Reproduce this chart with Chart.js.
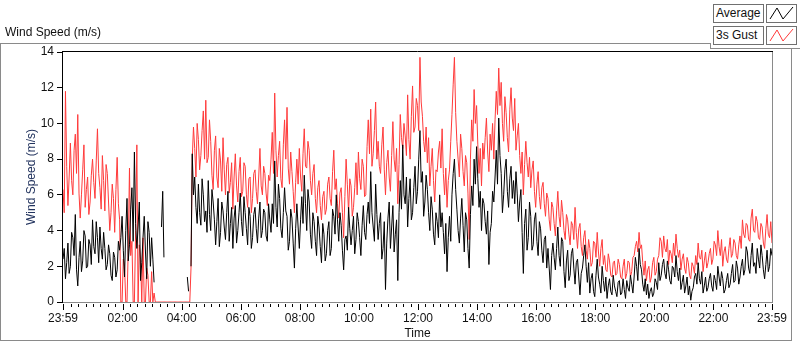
<!DOCTYPE html>
<html>
<head>
<meta charset="utf-8">
<script src="https://cdn.jsdelivr.net/npm/chart.js@4.4.1/dist/chart.umd.min.js"></script>
<style>
html, body { margin: 0; padding: 0; background: #fff; }
#wrap { position: relative; width: 800px; height: 342px; font-family: "Liberation Sans", Arial, sans-serif; font-size: 12px; color: #111; }
#chart { position: absolute; left: 0; top: 0; }
.txt { position: absolute; white-space: nowrap; line-height: 14px; }
.lg { position: absolute; box-sizing: border-box; height: 19px; border: 1px solid #707070; background: #fff; line-height: 17px; padding-left: 2px; }
.ic { position: absolute; box-sizing: border-box; width: 31px; height: 19px; border: 1px solid #707070; background: #fff; }
.ic svg { position: absolute; left: 0; top: 0; }
</style>
</head>
<body>
<div id="wrap">
	<canvas id="chart" width="800" height="342"></canvas>
	<div class="txt" style="left:5px; top:25px;">Wind Speed (m/s)</div>
	<div class="lg" style="left:713px; top:4px; width:51px;">Average</div>
	<div class="ic" style="left:766px; top:4px;"><svg width="29" height="17"><polyline points="3,14 10,3 16,14 26,2" fill="none" stroke="#000" stroke-width="1"/></svg></div>
	<div class="lg" style="left:713px; top:26px; width:51px;">3s Gust</div>
	<div class="ic" style="left:766px; top:26px;"><svg width="29" height="17"><polyline points="3,14 10,3 16,14 26,2" fill="none" stroke="#ff3a3a" stroke-width="1"/></svg></div>
</div>
<script>
// one sample every 2.5 minutes, starting 23:59 the day before
var STEP_MIN = 2.5;

var averageSpeed = [
	2.4,3.0,1.3,2.2,3.3,1.6,2.0,3.9,3.6,2.6,4.9,1.8,
	0.9,2.5,3.4,1.7,2.3,4.0,3.7,1.9,2.0,3.5,3.2,2.1,
	4.6,3.1,2.7,4.5,3.6,2.2,4.2,3.0,2.4,3.9,3.0,1.8,
	2.1,3.2,2.7,1.5,1.2,2.8,2.5,1.4,1.8,3.4,2.9,3.6,
	4.8,2.9,1.4,4.0,5.8,2.3,3.2,5.2,6.4,3.4,8.4,4.4,
	3.0,4.2,5.6,1.2,2.2,3.6,4.8,2.8,1.3,4.5,3.9,2.0,
	3.6,2.4,1.1,null,null,null,null,null,4.2,6.2,2.5,
	null,null,null,null,null,null,null,null,null,null,null,null,null,null,null,null,null,null,
	1.4,0.6,null,2.0,8.3,
	6.0,7.0,5.3,4.4,6.6,5.0,4.3,6.9,6.0,4.5,5.1,3.9,
	6.8,4.9,4.0,6.3,5.6,4.6,3.2,4.5,5.8,3.1,3.9,5.6,5.1,4.2,3.5,5.0,6.2,3.4,4.4,5.3,3.0,4.7,
	5.4,3.3,4.0,5.0,6.1,4.5,3.7,5.9,5.0,4.1,3.2,5.3,4.8,3.0,3.6,4.9,
	5.3,4.1,3.3,4.7,5.6,3.6,4.0,5.2,5.0,3.7,3.4,5.5,4.6,3.9,
	5.5,4.4,7.9,5.3,4.2,6.6,5.8,4.1,3.6,5.0,6.4,5.1,4.8,2.9,3.4,5.2,
	4.7,3.3,1.9,4.1,5.5,4.2,3.0,4.6,5.9,4.4,7.1,5.5,4.0,6.3,5.6,3.8,
	3.0,5.0,4.5,3.4,2.6,4.8,4.2,3.1,2.2,4.4,3.8,2.3,2.7,4.0,
	4.5,2.6,3.0,5.2,4.8,3.8,6.0,4.6,3.4,5.0,4.3,2.9,1.8,3.5,
	3.7,2.9,5.3,4.1,3.2,4.0,4.8,2.7,3.5,5.0,
	4.5,3.6,2.6,4.3,5.4,3.9,3.5,4.9,5.6,4.4,7.3,5.0,
	4.2,3.4,6.6,4.9,3.5,4.4,5.0,2.4,3.0,4.5,0.7,3.3,4.7,5.6,3.0,4.2,
	5.4,2.8,3.8,4.6,1.2,5.0,6.8,5.2,8.8,6.0,5.5,7.0,
	4.2,5.8,6.9,4.6,5.0,6.4,7.6,5.5,6.2,8.0,9.6,6.7,7.3,4.8,5.6,7.1,
	6.3,5.0,4.0,5.9,5.2,3.8,3.2,5.0,4.5,3.6,6.0,4.2,5.0,3.9,2.7,4.4,1.7,3.6,
	4.8,3.4,6.0,7.2,8.0,6.3,5.2,4.0,3.3,4.7,5.8,4.3,2.8,5.0,
	4.6,3.0,1.9,4.9,6.5,5.4,8.0,6.6,8.7,6.9,5.3,6.2,4.0,5.8,
	5.5,4.5,3.8,5.1,2.1,3.9,4.4,6.2,
	5.6,7.0,8.5,6.6,10.3,8.2,7.2,5.0,6.0,7.4,8.0,6.2,5.3,6.9,7.6,5.8,
	6.8,5.5,7.3,6.1,4.5,5.6,6.3,3.9,1.6,4.4,5.2,2.9,3.6,5.6,
	4.8,2.9,3.2,4.6,5.0,3.4,2.6,4.5,4.1,2.9,2.2,3.5,3.7,1.9,
	3.0,1.9,0.7,2.6,3.3,2.5,1.8,3.0,4.2,2.6,2.0,3.6,3.4,1.7,0.8,2.3,
	2.9,1.2,1.5,2.7,3.0,1.9,1.0,2.2,2.4,1.4,0.4,1.6,1.9,2.6,3.2,2.0,1.1,2.2,
	0.5,1.3,1.6,0.6,0.3,1.5,2.4,1.4,1.0,0.5,2.0,1.2,0.6,1.4,0.2,0.9,1.3,0.6,0.4,1.5,
	0.9,0.6,0.3,1.1,1.2,0.4,0.5,1.3,
	0.7,0.2,1.2,0.8,0.6,1.5,1.0,0.5,
	1.4,2.5,2.0,1.2,3.0,2.1,1.8,1.0,0.6,1.3,
	0.4,1.0,0.2,0.6,0.8,0.3,0.5,1.3,1.1,0.7,
	2.2,1.2,1.5,2.1,2.4,1.6,1.3,2.3,1.8,1.2,1.0,2.0,1.9,1.4,2.6,1.7,
	1.2,1.9,0.7,1.1,1.5,0.5,0.9,1.4,0.4,0.9,
	0.1,0.6,0.8,1.4,1.6,1.0,2.2,1.3,1.0,1.7,0.5,0.9,1.4,0.6,
	0.8,1.3,1.6,0.9,0.6,1.5,1.2,0.7,2.0,1.4,0.9,1.7,1.3,0.5,
	0.7,1.2,1.6,0.8,1.0,1.6,2.1,1.1,1.2,2.3,1.9,1.0,
	1.4,2.0,2.4,1.5,1.8,3.1,2.8,1.9,1.6,2.6,3.3,2.0,
	2.2,1.6,3.0,2.4,1.9,3.2,2.6,1.8,1.3,2.1,2.9,1.7,2.0,3.0,2.6
];

var gustSpeed = [
	6.3,5.0,11.8,7.6,5.4,7.0,8.9,6.8,6.0,8.5,9.4,7.2,
	10.5,6.1,4.7,6.0,7.4,8.8,5.3,6.3,7.0,4.9,5.6,7.1,
	8.0,6.7,5.8,7.9,9.7,7.2,6.4,5.2,8.2,6.8,5.1,7.7,
	7.2,5.6,4.0,5.0,6.6,5.8,3.9,6.3,8.1,5.5,4.6,0,
	0,2.4,2.0,0,0,3.0,7.5,2.6,3.4,0,0,4.0,8.8,0,3.2,2.4,0,3.6,0,0,1.9,1.5,0,0,1.7,0,0.5,0,
	0,0,0,0,0,0,0,0,0,0,0,0,0,0,0,0,0,0,0,0,0,0,0,0,0,0,0,0,
	1.9,8.0,
	9.8,8.6,7.0,10.0,9.1,7.4,8.2,9.6,10.7,8.0,11.3,7.8,
	8.1,10.2,9.0,7.1,6.3,8.5,9.3,7.0,6.4,8.6,7.9,6.2,9.2,7.4,6.0,7.7,8.1,6.1,6.7,7.8,5.2,7.0,
	8.3,6.5,5.6,7.3,8.1,5.9,6.2,7.8,7.6,6.0,5.3,6.9,7.0,5.0,5.8,7.2,
	7.4,6.2,5.5,7.0,8.6,6.5,6.0,7.6,7.2,6.1,5.4,7.1,6.8,8.0,
	9.5,7.2,11.7,8.5,7.0,8.2,9.0,6.9,6.4,8.8,10.2,8.0,10.9,7.5,6.6,8.4,
	7.3,6.2,5.0,6.7,8.0,6.6,8.6,7.0,6.2,8.3,9.7,7.6,7.5,9.0,8.5,6.8,
	6.0,7.2,7.7,5.8,5.0,6.4,6.8,5.4,4.6,5.9,6.2,4.9,5.2,6.6,
	7.0,5.8,5.4,7.3,8.5,6.3,6.9,5.5,4.7,6.1,6.4,5.0,3.6,5.9,
	8.0,6.6,5.0,6.9,6.5,4.8,5.3,6.4,7.8,6.0,
	8.4,6.9,6.3,8.0,7.6,5.9,6.0,8.7,10.2,8.3,10.8,7.6,
	8.3,9.6,11.2,8.0,9.0,7.6,7.2,8.8,9.8,7.4,6.0,7.8,8.5,7.0,6.2,8.2,
	10.1,8.0,7.3,8.6,5.5,7.7,10.5,9.2,8.6,10.0,9.3,8.2,
	11.6,9.1,8.0,10.4,12.1,9.5,9.8,11.4,11.0,9.6,13.7,11.2,10.4,9.0,8.4,9.8,
	7.8,9.2,6.5,7.6,8.6,6.8,5.6,7.4,7.3,8.4,9.0,7.5,9.7,7.2,6.0,7.5,5.3,6.8,
	7.4,9.0,10.5,12.2,13.7,10.6,9.0,8.0,7.0,9.4,8.6,7.3,6.5,8.2,
	7.8,6.1,3.5,8.0,10.2,9.0,11.9,10.0,11.0,8.8,7.2,8.6,6.5,8.9,
	8.0,9.2,10.3,8.4,7.3,9.4,8.5,10.0,
	8.0,10.2,11.8,10.5,13.1,11.0,12.3,10.0,9.0,11.5,10.6,9.2,8.4,10.8,12.0,10.3,
	9.6,11.4,8.5,9.3,10.0,8.2,7.2,8.4,6.0,7.7,9.0,7.8,7.0,8.1,
	6.4,7.4,7.9,6.2,5.3,6.6,7.3,5.9,5.2,6.4,6.7,5.5,4.8,6.1,
	5.8,4.6,4.0,5.6,5.3,4.4,3.7,5.1,6.2,4.8,4.2,5.7,5.0,4.0,3.5,4.9,
	4.6,3.8,3.2,4.5,4.3,3.5,5.3,3.9,3.0,4.1,4.4,3.1,2.6,3.6,4.0,2.9,2.4,3.5,
	3.0,2.0,2.2,3.4,3.3,2.5,3.9,2.8,2.0,3.0,3.5,2.1,2.6,1.8,1.7,2.7,2.3,1.5,1.4,2.2,
	2.3,1.5,1.6,2.4,2.1,1.4,1.3,2.0,
	2.4,1.3,1.6,2.3,2.2,1.4,1.7,2.5,
	2.6,3.1,3.4,2.8,3.9,3.0,3.2,2.2,1.5,2.3,
	1.2,1.8,2.0,1.1,1.4,2.2,2.5,1.5,1.7,2.4,
	2.6,3.6,3.4,2.5,3.7,3.0,2.8,3.5,2.1,2.9,2.7,2.2,3.3,2.6,3.8,3.0,
	2.5,2.9,1.8,2.4,2.7,1.9,1.6,2.5,2.2,1.5,
	1.3,2.2,2.0,1.6,2.6,2.1,3.3,2.5,2.4,2.9,1.7,2.3,2.8,1.9,
	2.2,2.7,3.0,2.1,2.4,3.4,3.2,2.6,4.0,3.1,2.6,3.5,2.0,2.8,
	3.1,2.4,2.2,3.0,3.6,2.5,2.7,3.5,3.3,2.6,2.4,3.2,
	3.7,3.0,4.6,3.8,3.6,4.4,4.3,3.5,3.4,4.7,5.2,4.0,
	3.9,4.8,4.5,3.6,3.5,4.4,4.2,3.3,3.0,4.1,4.9,3.8,3.6,4.5,3.3
];

// minutes after 23:59 of the labelled ticks
var tickMinutes = [0, 121, 241, 361, 481, 601, 721, 841, 961, 1081, 1201, 1321, 1440];
var tickLabels = ['23:59', '02:00', '04:00', '06:00', '08:00', '10:00', '12:00', '14:00', '16:00', '18:00', '20:00', '22:00', '23:59'];

function toPoints(arr) {
	return arr.map(function (v, i) { return { x: i * STEP_MIN, y: v }; });
}

var frame = {
	id: 'frame',
	beforeDraw: function (chart) {
		var ctx = chart.ctx;
		ctx.save();
		ctx.strokeStyle = '#8a8a8a';
		ctx.lineWidth = 1;
		ctx.beginPath();
		ctx.moveTo(0, 43.5); ctx.lineTo(710, 43.5);
		ctx.moveTo(0.5, 43); ctx.lineTo(0.5, 341);
		ctx.moveTo(0, 340.5); ctx.lineTo(792, 340.5);
		ctx.moveTo(791.5, 49); ctx.lineTo(791.5, 341);
		ctx.moveTo(710.5, 43); ctx.lineTo(710.5, 49);
		ctx.moveTo(710, 48.5); ctx.lineTo(800, 48.5);
		ctx.stroke();
		ctx.restore();
	},
	afterDatasetsDraw: function (chart) {
		var ctx = chart.ctx, a = chart.chartArea, xs = chart.scales.x;
		ctx.save();
		ctx.lineWidth = 1;
		ctx.strokeStyle = '#8a8a8a';
		ctx.beginPath();
		ctx.moveTo(a.right + 0.5, a.top); ctx.lineTo(a.right + 0.5, a.bottom + 1);
		ctx.moveTo(a.left, a.bottom + 0.5); ctx.lineTo(a.right + 1, a.bottom + 0.5);
		ctx.stroke();
		ctx.strokeStyle = '#000';
		ctx.beginPath();
		ctx.moveTo(a.left - 1, a.top - 0.5); ctx.lineTo(a.right + 1, a.top - 0.5);
		ctx.moveTo(a.left - 0.5, a.top - 1); ctx.lineTo(a.left - 0.5, a.bottom + 1);
		ctx.stroke();
		// minor ticks each quarter hour, longer ones under the labels
		ctx.beginPath();
		var m, x;
		for (m = 16; m < 1440; m += 15) {
			x = Math.round(xs.getPixelForValue(m)) + 0.5;
			ctx.moveTo(x, a.bottom + 2);
			ctx.lineTo(x, a.bottom + ((m - 1) % 120 === 0 ? 8 : 5));
		}
		[0, 1440].forEach(function (v) {
			x = Math.round(xs.getPixelForValue(v)) + 0.5;
			ctx.moveTo(x, a.bottom + 2);
			ctx.lineTo(x, a.bottom + 8);
		});
		ctx.stroke();
		ctx.restore();
	}
};

new Chart(document.getElementById('chart'), {
	type: 'line',
	data: {
		datasets: [
			{
				label: 'Average',
				data: toPoints(averageSpeed),
				borderColor: '#000',
				borderWidth: 1,
				pointRadius: 0,
				tension: 0,
				spanGaps: false,
				clip: 3
			},
			{
				label: '3s Gust',
				data: toPoints(gustSpeed),
				borderColor: '#ff3a3a',
				borderWidth: 1,
				pointRadius: 0,
				tension: 0,
				spanGaps: false,
				clip: 3
			}
		]
	},
	options: {
		responsive: false,
		animation: false,
		devicePixelRatio: 1,
		layout: { padding: { top: 52, right: 28, bottom: 1, left: 24 } },
		plugins: { legend: { display: false }, tooltip: { enabled: false } },
		scales: {
			x: {
				type: 'linear',
				min: 0,
				max: 1440,
				afterBuildTicks: function (scale) {
					scale.ticks = tickMinutes.map(function (v) { return { value: v }; });
				},
				afterFit: function (scale) { scale.height = 39; },
				grid: { display: false, drawTicks: false },
				border: { display: false },
				ticks: {
					autoSkip: false,
					maxRotation: 0,
					padding: 9,
					color: '#111',
					font: { family: 'Liberation Sans', size: 12 },
					callback: function (v, i) { return tickLabels[i]; }
				},
				title: {
					display: true,
					text: 'Time',
					color: '#111',
					padding: 0,
					font: { family: 'Liberation Sans', size: 12 }
				}
			},
			y: {
				min: 0,
				max: 14,
				afterFit: function (scale) { scale.width = 39; },
				grid: { drawOnChartArea: false, drawTicks: true, tickLength: 6, tickColor: '#000' },
				border: { display: false },
				ticks: {
					stepSize: 2,
					padding: 3,
					color: '#111',
					font: { family: 'Liberation Sans', size: 12 }
				},
				title: {
					display: true,
					text: 'Wind Speed (m/s)',
					color: '#22335e',
					padding: 0,
					font: { family: 'Liberation Sans', size: 12 }
				}
			}
		}
	},
	plugins: [frame]
});
</script>
</body>
</html>
